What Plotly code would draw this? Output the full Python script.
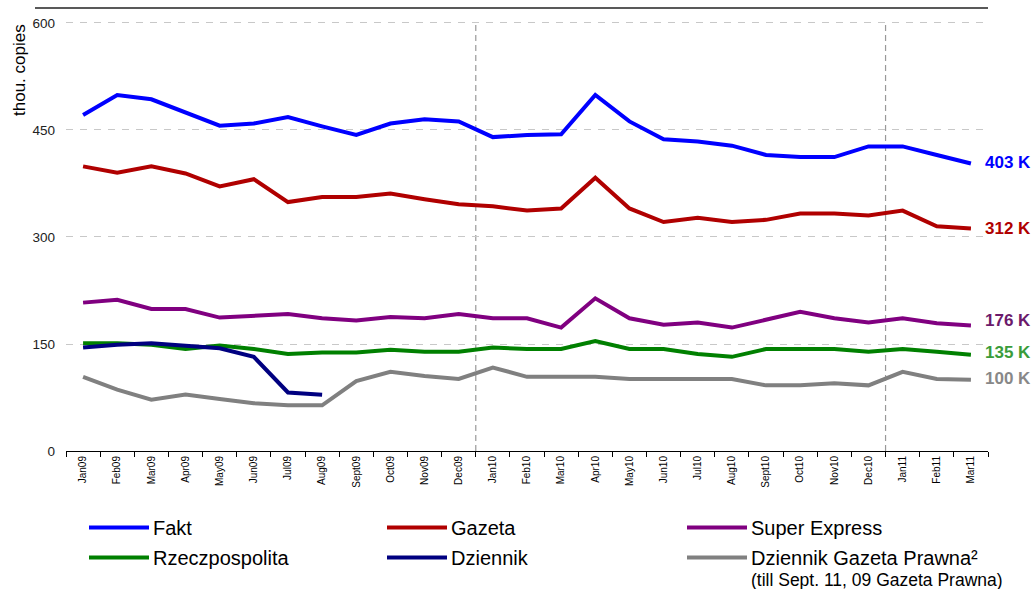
import plotly.graph_objects as go

# ---------------- data ----------------
months = ["Jan09", "Feb09", "Mar09", "Apr09", "May09", "Jun09", "Jul09", "Aug09", "Sept09",
          "Oct09", "Nov09", "Dec09", "Jan10", "Feb10", "Mar10", "Apr10", "May10", "Jun10",
          "Jul10", "Aug10", "Sept10", "Oct10", "Nov10", "Dec10", "Jan11", "Feb11", "Mar11"]

fakt = [471, 499, 493, 475, 456, 459, 468, 455, 443, 459, 465, 462, 440, 443, 444, 499,
        462, 437, 434, 428, 415, 412, 412, 427, 427, 415, 403]
gazeta = [399, 390, 399, 389, 371, 381, 349, 356, 356, 361, 353, 346, 343, 337, 340, 383,
          340, 321, 327, 321, 324, 333, 333, 330, 337, 315, 312]
super_express = [208, 212, 199, 199, 187, 189, 192, 186, 183, 188, 186, 192, 186, 186, 173, 214,
                 186, 177, 180, 173, 184, 195, 186, 180, 186, 179, 176]
rzeczpospolita = [151, 151, 149, 143, 148, 143, 136, 138, 138, 142, 139, 139, 145, 143, 143, 154,
                  143, 143, 136, 132, 143, 143, 143, 139, 143, 139, 135]
dziennik = [145, 149, 151, 148, 144, 132, 82, 79] + [None] * 19
dgp = [104, 86, 72, 79, 73, 67, 64, 64, 98, 111, 105, 101, 117, 104, 104, 104,
       101, 101, 101, 101, 92, 92, 95, 92, 111, 101, 100]

series_names = ["Fakt", "Gazeta", "Super Express", "Rzeczpospolita", "Dziennik",
                "Dziennik Gazeta Prawna²"]
series_values = [fakt, gazeta, super_express, rzeczpospolita, dziennik, dgp]
legend_note = "(till Sept. 11, 09 Gazeta Prawna)"
y_ticks = [0, 150, 300, 450, 600]

# ---------------- styles ----------------
line_colors = ["#0000FF", "#B00000", "#800080", "#008000", "#000080", "#808080"]
label_colors = {"Fakt": "#0000FF", "Gazeta": "#B00000", "Super Express": "#6B1A6B",
                "Rzeczpospolita": "#3A9C3A", "Dziennik Gazeta Prawna²": "#888888"}
label_yshift = {"Fakt": 1, "Gazeta": 0, "Super Express": 5, "Rzeczpospolita": 2,
                "Dziennik Gazeta Prawna²": 1}

W, H = 1034, 589
L, R, T, B = 66, 46, 8, 138
PW, PH = W - L - R, H - T - B


def px_x(px):
    return (px - L) / PW


def px_y(py):
    return (H - B - py) / PH


FONT = "Liberation Sans, Arial, sans-serif"

fig = go.Figure()
for name, vals, col in zip(series_names, series_values, line_colors):
    fig.add_trace(go.Scatter(x=months, y=vals, mode="lines", name=name,
                             line=dict(color=col, width=4), connectgaps=False,
                             showlegend=False))

annotations = []
# end labels
for name, vals in zip(series_names, series_values):
    if name not in label_colors:
        continue
    last = vals[-1]
    annotations.append(dict(x=months[-1], y=last, xref="x", yref="y",
                            text=f"<b>{last} K</b>", showarrow=False,
                            xanchor="left", yanchor="middle", xshift=12,
                            yshift=label_yshift[name],
                            font=dict(family=FONT, size=17, color=label_colors[name])))

# y axis title
annotations.append(dict(x=px_x(19), y=px_y(70), xref="paper", yref="paper",
                        xanchor="center", yanchor="middle",
                        text="thou. copies", textangle=-90, showarrow=False,
                        font=dict(family=FONT, size=17, color="#000000")))

# manual legend (3 columns x 2 rows)
shapes = []
col_x = [89, 387, 687]
row_y = [527.5, 557.5]
for i, (name, col) in enumerate(zip(series_names, line_colors)):
    cx = col_x[i % 3]
    ry = row_y[i // 3]
    shapes.append(dict(type="line", xref="paper", yref="paper",
                       x0=px_x(cx), x1=px_x(cx + 60), y0=px_y(ry), y1=px_y(ry),
                       line=dict(color=col, width=4)))
    annotations.append(dict(x=px_x(cx + 62), y=px_y(ry), xref="paper", yref="paper",
                            text=name, showarrow=False, xanchor="left", yanchor="middle",
                            font=dict(family=FONT, size=20, color="#000000")))
annotations.append(dict(x=px_x(col_x[2] + 62), y=px_y(580), xref="paper", yref="paper",
                        text=legend_note, showarrow=False, xanchor="left", yanchor="middle",
                        font=dict(family=FONT, size=17.5, color="#000000")))

# top rule
shapes.append(dict(type="line", xref="paper", yref="paper", x0=px_x(35), x1=1.0,
                   y0=1, y1=1, line=dict(color="#222222", width=1.5)))
# year separators
for xv in [11.5, 23.5]:
    shapes.append(dict(type="line", xref="x", yref="y", x0=xv, x1=xv, y0=0, y1=600,
                       line=dict(color="#999999", width=1.2, dash="6px,4px"), layer="below"))

fig.update_layout(
    width=W, height=H,
    margin=dict(l=L, r=R, t=T, b=B),
    paper_bgcolor="white", plot_bgcolor="white",
    font=dict(family=FONT, color="#222222"),
    showlegend=False,
    shapes=shapes,
    annotations=annotations,
    xaxis=dict(type="category", categoryorder="array", categoryarray=months,
               range=[-0.5, 26.5], showline=True, linecolor="#000000", linewidth=1,
               ticks="outside", ticklen=5, tickcolor="#000000", tickson="boundaries",
               tickangle=-90, tickfont=dict(family=FONT, size=10, color="#000000"),
               showgrid=False, zeroline=False),
    yaxis=dict(range=[0, 621], tickvals=y_ticks, showgrid=True, gridcolor="#C8C8C8",
               gridwidth=1, griddash="7px,7px", zeroline=False, showline=False,
               ticks="", ticklabelstandoff=10,
               tickfont=dict(family=FONT, size=13.5, color="#222222")),
)

fig.write_html("out.html")
